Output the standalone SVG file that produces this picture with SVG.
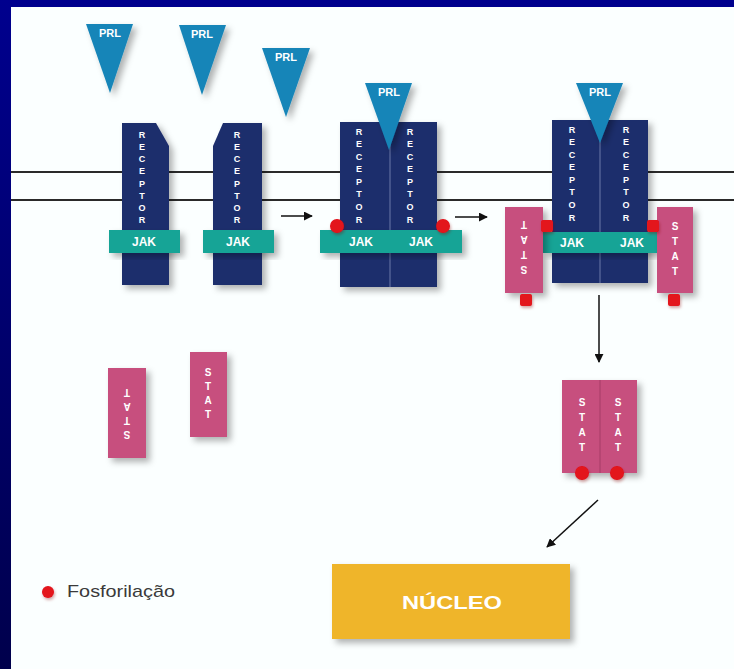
<svg xmlns="http://www.w3.org/2000/svg" width="734" height="669" viewBox="0 0 734 669">
<defs>
<linearGradient id="bg" x1="0" y1="0" x2="0" y2="1">
<stop offset="0" stop-color="#00008e"/>
<stop offset="1" stop-color="#00004c"/>
</linearGradient>
<filter id="sh" x="-30%" y="-30%" width="160%" height="160%">
<feDropShadow dx="4" dy="4" stdDeviation="3" flood-color="#000" flood-opacity="0.3"/>
</filter>
<filter id="sh2" x="-50%" y="-50%" width="200%" height="200%">
<feDropShadow dx="1" dy="2" stdDeviation="1.5" flood-color="#800" flood-opacity="0.35"/>
</filter>
<marker id="ah" viewBox="0 0 10 10" refX="9" refY="5" markerWidth="9" markerHeight="9" markerUnits="userSpaceOnUse" orient="auto">
<path d="M0,0 L10,5 L0,10 Z" fill="#111"/>
</marker>
</defs>
<style>
.rec{fill:#1f2e6c;filter:url(#sh)}
.mid{stroke:#6a78a8;stroke-width:1}
.prl{fill:#1885b8;filter:url(#sh)}
.jak{fill:#17a496;filter:url(#sh)}
.stat{fill:#c7507e;filter:url(#sh)}
.ph{fill:#e3121b;filter:url(#sh2)}
.mem{stroke:#2a2a2a;stroke-width:2}
.arr{stroke:#111;stroke-width:1.5;fill:none;marker-end:url(#ah)}
.lt{font-family:"Liberation Sans",Arial,sans-serif;font-weight:bold;fill:#fff;text-anchor:middle}
.rl{font-size:9px}
.sl{font-size:10px}
.jl{font-size:12px}
.pl{font-size:11px}
</style>
<rect x="0" y="0" width="734" height="669" fill="url(#bg)"/>
<rect x="11" y="7" width="723" height="662" fill="#fbffff"/>

<g id="membrane">
<line class="mem" x1="11" y1="172" x2="734" y2="172"/>
<line class="mem" x1="11" y1="200" x2="734" y2="200"/>
</g>

<g id="receptor1">
<path class="rec" d="M122,123 H156 L169,146 V285 H122 Z"/>
<text class="lt rl"><tspan x="142" y="138">R</tspan><tspan x="142" y="150">E</tspan><tspan x="142" y="162">C</tspan><tspan x="142" y="174">E</tspan><tspan x="142" y="187">P</tspan><tspan x="142" y="199">T</tspan><tspan x="142" y="211">O</tspan><tspan x="142" y="223">R</tspan></text>
<rect class="jak" x="109" y="230" width="71" height="23"/>
<text class="lt jl" x="144" y="246">JAK</text>
</g>

<g id="receptor2">
<path class="rec" d="M223,123 H262 V285 H213 V146 Z"/>
<text class="lt rl"><tspan x="237" y="138">R</tspan><tspan x="237" y="150">E</tspan><tspan x="237" y="162">C</tspan><tspan x="237" y="174">E</tspan><tspan x="237" y="187">P</tspan><tspan x="237" y="199">T</tspan><tspan x="237" y="211">O</tspan><tspan x="237" y="223">R</tspan></text>
<rect class="jak" x="203" y="230" width="71" height="23"/>
<text class="lt jl" x="238" y="246">JAK</text>
</g>

<g id="prl1">
<path class="prl" d="M86,24 H133 L110,93 Z"/>
<text class="lt pl" x="110" y="37">PRL</text>
</g>
<g id="prl2">
<path class="prl" d="M179,25 H226 L202,95 Z"/>
<text class="lt pl" x="202" y="38">PRL</text>
</g>
<g id="prl3">
<path class="prl" d="M262,48 H310 L286,117 Z"/>
<text class="lt pl" x="286" y="61">PRL</text>
</g>

<g id="dimer1">
<rect class="rec" x="340" y="122" width="97" height="165"/>
<line class="mid" x1="390" y1="122" x2="390" y2="287"/>
<text class="lt rl"><tspan x="359" y="135">R</tspan><tspan x="359" y="147">E</tspan><tspan x="359" y="160">C</tspan><tspan x="359" y="172">E</tspan><tspan x="359" y="185">P</tspan><tspan x="359" y="197">T</tspan><tspan x="359" y="210">O</tspan><tspan x="359" y="223">R</tspan></text>
<text class="lt rl"><tspan x="410" y="135">R</tspan><tspan x="410" y="147">E</tspan><tspan x="410" y="160">C</tspan><tspan x="410" y="172">E</tspan><tspan x="410" y="185">P</tspan><tspan x="410" y="197">T</tspan><tspan x="410" y="210">O</tspan><tspan x="410" y="223">R</tspan></text>
<rect class="jak" x="320" y="230" width="142" height="23"/>
<text class="lt jl" x="361" y="246">JAK</text>
<text class="lt jl" x="421" y="246">JAK</text>
<path class="prl" d="M365,83 H412 L389,150 Z"/>
<text class="lt pl" x="389" y="96">PRL</text>
<circle class="ph" cx="337" cy="226" r="7"/>
<circle class="ph" cx="443" cy="226" r="7"/>
</g>

<g id="dimer2">
<rect class="rec" x="552" y="120" width="96" height="163"/>
<line class="mid" x1="600" y1="120" x2="600" y2="283"/>
<text class="lt rl"><tspan x="572" y="133">R</tspan><tspan x="572" y="145">E</tspan><tspan x="572" y="158">C</tspan><tspan x="572" y="170">E</tspan><tspan x="572" y="183">P</tspan><tspan x="572" y="195">T</tspan><tspan x="572" y="208">O</tspan><tspan x="572" y="221">R</tspan></text>
<text class="lt rl"><tspan x="626" y="133">R</tspan><tspan x="626" y="145">E</tspan><tspan x="626" y="158">C</tspan><tspan x="626" y="170">E</tspan><tspan x="626" y="183">P</tspan><tspan x="626" y="195">T</tspan><tspan x="626" y="208">O</tspan><tspan x="626" y="221">R</tspan></text>
<rect class="jak" x="543" y="232" width="114" height="21"/>
<text class="lt jl" x="572" y="247">JAK</text>
<text class="lt jl" x="632" y="247">JAK</text>
<path class="prl" d="M576,83 H623 L600,143 Z"/>
<text class="lt pl" x="600" y="96">PRL</text>
</g>

<g id="stat-left-bound">
<rect class="stat" x="505" y="207" width="38" height="86"/>
<text class="lt sl" transform="rotate(180 524 248)"><tspan x="524" y="230">S</tspan><tspan x="524" y="245">T</tspan><tspan x="524" y="260">A</tspan><tspan x="524" y="275">T</tspan></text>
<rect class="ph" x="520" y="294" width="12" height="12" rx="2"/>
</g>
<g id="stat-right-bound">
<rect class="stat" x="657" y="207" width="36" height="86"/>
<text class="lt sl"><tspan x="675" y="230">S</tspan><tspan x="675" y="245">T</tspan><tspan x="675" y="260">A</tspan><tspan x="675" y="275">T</tspan></text>
<rect class="ph" x="668" y="294" width="12" height="12" rx="2"/>
</g>
<g id="dimer2-phospho">
<rect class="ph" x="541" y="220" width="12" height="12" rx="2"/>
<rect class="ph" x="647" y="220" width="12" height="12" rx="2"/>
</g>

<g id="stat-free1">
<rect class="stat" x="108" y="368" width="38" height="90"/>
<text class="lt sl" transform="rotate(180 127 413)"><tspan x="127" y="395">S</tspan><tspan x="127" y="409">T</tspan><tspan x="127" y="423">A</tspan><tspan x="127" y="437">T</tspan></text>
</g>
<g id="stat-free2">
<rect class="stat" x="190" y="352" width="37" height="85"/>
<text class="lt sl"><tspan x="208" y="376">S</tspan><tspan x="208" y="390">T</tspan><tspan x="208" y="404">A</tspan><tspan x="208" y="418">T</tspan></text>
</g>

<g id="stat-dimer">
<rect class="stat" x="562" y="380" width="75" height="93"/>
<line x1="600" y1="380" x2="600" y2="473" stroke="#a63d66" stroke-width="1"/>
<text class="lt sl"><tspan x="582" y="406">S</tspan><tspan x="582" y="421">T</tspan><tspan x="582" y="436">A</tspan><tspan x="582" y="451">T</tspan></text>
<text class="lt sl"><tspan x="618" y="406">S</tspan><tspan x="618" y="421">T</tspan><tspan x="618" y="436">A</tspan><tspan x="618" y="451">T</tspan></text>
<circle class="ph" cx="582" cy="473" r="7"/>
<circle class="ph" cx="617" cy="473" r="7"/>
</g>

<g id="nucleus">
<rect x="332" y="564" width="238" height="75" fill="#efb52b" filter="url(#sh)"/>
<text class="lt" x="452" y="609" font-size="18" textLength="100" lengthAdjust="spacingAndGlyphs">NÚCLEO</text>
</g>

<g id="legend">
<circle class="ph" cx="48" cy="592" r="6"/>
<text x="67" y="597" font-family="'Liberation Sans',Arial,sans-serif" font-size="17" fill="#3a3a3a" textLength="108" lengthAdjust="spacingAndGlyphs">Fosforilação</text>
</g>

<g id="connectors">
<line class="arr" x1="281" y1="216" x2="312" y2="216"/>
<line class="arr" x1="455" y1="217" x2="487" y2="217"/>
<line class="arr" x1="599" y1="295" x2="599" y2="362"/>
<line class="arr" x1="598" y1="500" x2="547" y2="547"/>
</g>
</svg>
